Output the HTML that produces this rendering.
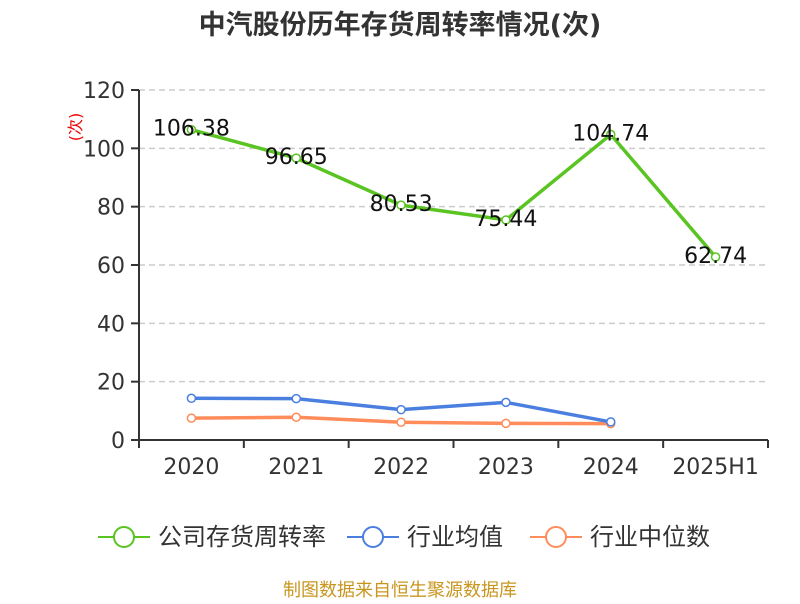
<!DOCTYPE html>
<html><head><meta charset="utf-8"><style>
body{margin:0;background:#fff;font-family:"DejaVu Sans","Noto Sans CJK SC",sans-serif}
</style></head><body>
<svg id="c" width="800" height="600" xmlns="http://www.w3.org/2000/svg" font-family="DejaVu Sans, Noto Sans CJK SC, sans-serif"></svg>
<script>
const categories=["2020","2021","2022","2023","2024","2025H1"];
const companyValues=[106.38,96.65,80.53,75.44,104.74,62.74];
const avgValues=[14.3,14.2,10.4,12.9,6.2];
const medianValues=[7.5,7.8,6.1,5.7,5.6];
const yTicks=[0,20,40,60,80,100,120];
const NS="http://www.w3.org/2000/svg";
const svg=document.getElementById('c');
const x0=139,x1=768,y0=440,y1=90,yMax=120;
const band=(x1-x0)/categories.length;
const xs=i=>x0+band*(i+0.5);
const ys=v=>y0-(v/yMax)*(y0-y1);
function el(t,a,p){const e=document.createElementNS(NS,t);for(const k in a)e.setAttribute(k,a[k]);(p||svg).appendChild(e);return e;}
let t=el('text',{x:400,y:34,'text-anchor':'middle','font-size':27,'font-weight':'bold',fill:'#333'});t.textContent='中汽股份历年存货周转率情况(次)';


t=el('text',{x:0,y:0,'text-anchor':'middle','font-size':16,fill:'#e00',transform:'translate(81,127) rotate(-90)'});t.textContent='(次)';


yTicks.forEach(v=>{const y=ys(v);
 if(v>0){const g=el('line',{x1:x0,x2:x1,y1:y,y2:y,stroke:'#ccc','stroke-dasharray':'6,4','stroke-width':1.5});
 
 }
 el('line',{x1:x0-8,x2:x0,y1:y,y2:y,stroke:'#333','stroke-width':2});
 const l=el('text',{x:x0-14,y:y+8,'text-anchor':'end','font-size':22,fill:'#333'});l.textContent=v;
 
 });
el('line',{x1:x0,x2:x0,y1:y1,y2:y0,stroke:'#333','stroke-width':2});
el('line',{x1:x0,x2:x1,y1:y0,y2:y0,stroke:'#333','stroke-width':2});
for(let i=0;i<=categories.length;i++){const x=x0+band*i;el('line',{x1:x,x2:x,y1:y0,y2:y0+8,stroke:'#333','stroke-width':2});}
categories.forEach((c,i)=>{const l=el('text',{x:xs(i),y:y0+34,'text-anchor':'middle','font-size':22,fill:'#333'});l.textContent=c;
 
 });
function series(vals,color,name,labels){
 const p=el('polyline',{points:vals.map((v,i)=>xs(i)+','+ys(v)).join(' '),fill:'none',stroke:color,'stroke-width':3.5});
 
 
 vals.forEach((v,i)=>{const c=el('circle',{cx:xs(i),cy:ys(v),r:4,fill:'#fff',stroke:color,'stroke-width':1.5});
  
  
  if(labels){const l=el('text',{x:xs(i),y:ys(v)+6,'text-anchor':'middle','font-size':22,fill:'#111'});l.textContent=v.toFixed(2);
  
  }});
}
series(medianValues,'#ff8c5a','median');
series(avgValues,'#4a7fe0','average');
series(companyValues,'#5ac423','company',true);
const leg=[['公司存货周转率','#5ac423',98],['行业均值','#4a7fe0',347],['行业中位数','#ff8c5a',530]];
leg.forEach(([n,c,x])=>{const g=el('g',{});
 
 
 el('line',{x1:x,x2:x+52,y1:537,y2:537,stroke:c,'stroke-width':2},g);
 el('circle',{cx:x+26,cy:537,r:10,fill:'#fff',stroke:c,'stroke-width':2},g);
 const l=el('text',{x:x+60,y:545,'font-size':24,fill:'#333'},g);l.textContent=n;});
t=el('text',{x:400,y:596,'text-anchor':'middle','font-size':18,fill:'#c8961e'});t.textContent='制图数据来自恒生聚源数据库';


</script>
</body></html>
